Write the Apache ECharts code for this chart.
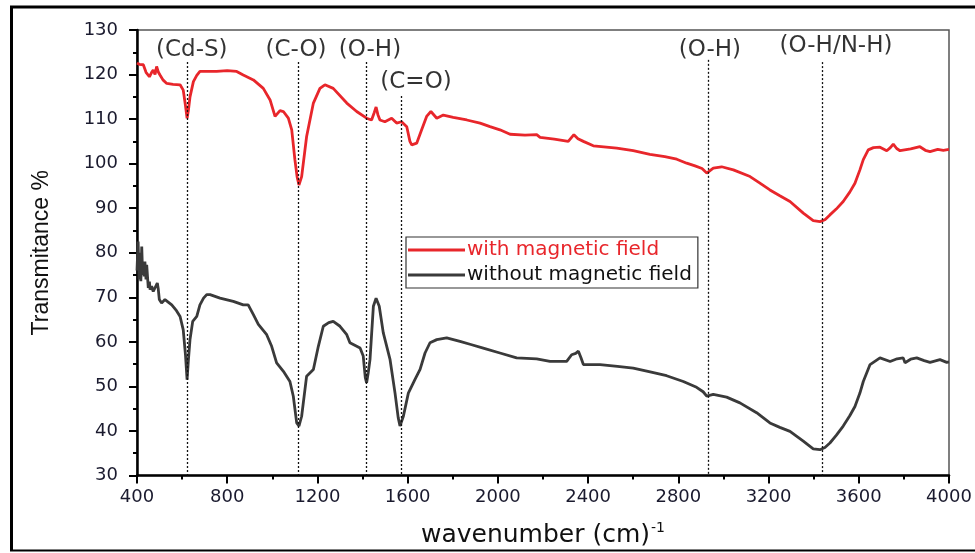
<!DOCTYPE html>
<html>
<head>
<meta charset="utf-8">
<script src="https://cdn.jsdelivr.net/npm/echarts@6/dist/echarts.min.js"></script>
<style>
html,body{margin:0;padding:0;background:#fff;}
#chart{width:975px;height:553px;}
</style>
</head>
<body>
<div id="chart"></div>
<script>
// ---- data ----
var seriesNames = ['with magnetic field', 'without magnetic field'];
var seriesColors = ['#e8262b', '#3a3a3a'];

var withField = [
  [400,122.6],[410,122.3],[428,122.2],[440,120.5],[455,119.5],[465,120.5],[472,121],[480,120],
  [487,121.8],[495,120.5],[502,119.9],[515,118.8],[532,118],[560,117.8],[591,117.7],[605,116.5],
  [615,113],[622,110.2],[628,112],[635,115],[650,118.4],[665,119.8],[679,120.7],[709,120.7],
  [753,120.7],[800,120.9],[842,120.7],[871,119.9],[916,118.8],[960,116.9],[990,114.3],[1012,110.6],
  [1034,111.9],[1049,111.7],[1071,110.2],[1086,107.6],[1100,100.9],[1110,97],[1118,95.2],[1130,97.1],
  [1152,106.1],[1182,113.6],[1211,116.9],[1233,117.7],[1270,116.9],[1330,113.6],[1374,111.7],
  [1418,110.2],[1440,109.8],[1452,111.5],[1460,112.7],[1468,111],[1477,109.8],[1499,109.4],
  [1529,110.2],[1551,109.1],[1573,109.4],[1596,108.3],[1610,105],[1618,104.2],[1640,104.6],
  [1662,107.6],[1684,110.6],[1703,111.7],[1729,110.2],[1758,110.9],[1802,110.4],[1862,109.8],
  [1921,109.1],[1965,108.3],[2009,107.6],[2054,106.6],[2120,106.4],[2172,106.5],[2187,105.9],
  [2250,105.5],[2312,105.0],[2337,106.5],[2355,105.6],[2379,105.0],[2423,104.0],[2527,103.5],
  [2600,102.9],[2674,102.1],[2740,101.6],[2793,101.0],[2837,100.1],[2874,99.5],[2905,98.9],
  [2926,97.9],[2955,99.0],[2992,99.3],[3044,98.6],[3118,97.1],[3160,95.7],[3206,94.1],[3250,92.8],
  [3295,91.5],[3354,88.9],[3398,87.2],[3428,87.0],[3450,87.4],[3472,88.5],[3500,89.8],[3531,91.5],
  [3560,93.6],[3583,95.6],[3605,98.6],[3620,100.9],[3642,103.1],[3665,103.6],[3694,103.7],
  [3724,102.9],[3740,103.6],[3753,104.4],[3768,103.4],[3783,102.9],[3830,103.3],[3871,103.8],
  [3895,103.0],[3916,102.7],[3950,103.2],[3975,103.0],[4000,103.2]
];

var withoutField = [
  [400,76],[405,82.5],[409,74],[413,80],[417,73.6],[421,81.4],[425,75],[428,78],[432,74.7],
  [435,78],[440,74],[443,77.3],[450,72.1],[455,73.5],[458,71.7],[465,72.5],[472,71.3],[480,71.3],
  [490,73.2],[494,72],[499,69.5],[509,68.7],[524,69.5],[554,68.3],[575,67],[591,65.7],[605,62.7],
  [615,57],[622,51.5],[628,56],[635,60.5],[647,64.6],[665,65.7],[679,68.3],[695,69.8],[709,70.6],
  [724,70.6],[768,69.8],[827,69.1],[871,68.3],[893,68.3],[916,66.1],[938,63.9],[975,61.6],
  [997,59.0],[1019,55.3],[1049,53.4],[1078,51.1],[1093,47.8],[1108,41.8],[1118,41.1],[1130,43.3],
  [1152,52.3],[1182,53.8],[1204,59.0],[1226,63.5],[1250,64.3],[1270,64.6],[1300,63.5],[1330,61.6],
  [1344,59.8],[1389,58.6],[1403,56.8],[1412,52],[1418,50.8],[1425,53],[1433,56.0],[1448,68.0],
  [1460,69.8],[1474,68.0],[1492,62.0],[1522,56.0],[1544,48.5],[1558,43],[1566,41.1],[1581,43.3],
  [1603,48.5],[1632,51.5],[1655,53.8],[1677,57.5],[1699,59.8],[1729,60.5],[1773,60.9],[1832,60.1],
  [1880,59.4],[1935,58.6],[2009,57.5],[2083,56.4],[2172,56.2],[2231,55.6],[2305,55.6],[2327,57.1],
  [2345,57.4],[2357,57.9],[2368,56.5],[2379,54.9],[2453,54.9],[2530,54.5],[2600,54.1],[2680,53.2],
  [2748,52.4],[2822,51.1],[2881,49.8],[2910,48.8],[2926,47.8],[2955,48.2],[3014,47.6],[3073,46.3],
  [3147,44.1],[3206,41.8],[3250,40.8],[3295,39.9],[3354,37.7],[3398,36.0],[3428,35.8],[3450,36.3],
  [3472,37.3],[3500,39.0],[3531,41.1],[3560,43.4],[3583,45.5],[3605,48.5],[3620,51.1],[3650,54.9],
  [3694,56.4],[3739,55.6],[3770,56.2],[3797,56.4],[3805,55.3],[3830,56.1],[3857,56.4],[3890,55.8],
  [3916,55.4],[3960,56.0],[3990,55.4],[4000,55.5]
];

// peak assignment annotations
var annotNames   = ['(Cd-S)', '(C-O)', '(O-H)', '(C=O)', '(O-H)', '(O-H/N-H)'];
var annotLineX   = [622, 1114, 1415, 1570, 2931, 3436];
var annotLineTop = [122.8, 122.8, 122.8, 115.2, 123.3, 122.8];
var annotLabelX  = [643, 1105, 1433, 1637, 2940, 3499];
var annotLabelY  = [125.6, 125.6, 125.6, 118.4, 125.4, 126.3];

var xTicks = {min: 400, max: 4000, interval: 400};
var yTicks = {min: 30, max: 130, interval: 10};

// ---- chart ----
var chart = echarts.init(document.getElementById('chart'), null, {renderer: 'canvas'});

var markLines = annotLineX.map(function (x, i) {
  return [{coord: [x, annotLineTop[i]]}, {coord: [x, yTicks.min]}];
});
var annotData = annotNames.map(function (n, i) {
  return {name: n, value: [annotLabelX[i], annotLabelY[i]]};
});

var tickFont = 'DejaVu Sans';
var option = {
  backgroundColor: '#fff',
  animation: false,
  grid: {left: 137, top: 30, right: 26, bottom: 77, show: true, borderColor: '#555', borderWidth: 1.5},
  graphic: [
    {type: 'line', shape: {x1: 11.5, y1: 6, x2: 11.5, y2: 551}, style: {stroke: '#000', lineWidth: 3}},
    {type: 'line', shape: {x1: 10, y1: 7, x2: 975, y2: 7}, style: {stroke: '#000', lineWidth: 3}},
    {type: 'line', shape: {x1: 10, y1: 550.5, x2: 975, y2: 550.5}, style: {stroke: '#000', lineWidth: 2}}
  ],
  legend: {
    left: 406, top: 237,
    orient: 'vertical',
    icon: 'rect',
    itemWidth: 57, itemHeight: 3, itemGap: 5,
    padding: [3, 6, 3, 2],
    borderColor: '#333', borderWidth: 1.2,
    backgroundColor: '#fff',
    textStyle: {fontFamily: tickFont, fontSize: 20, padding: [0, 0, 0, -3]},
    data: [
      {name: seriesNames[0], textStyle: {color: seriesColors[0]}},
      {name: seriesNames[1], textStyle: {color: '#111'}}
    ]
  },
  xAxis: {
    type: 'value', min: xTicks.min, max: xTicks.max, interval: xTicks.interval,
    name: 'wavenumber (cm){sup|-1}',
    nameLocation: 'middle', nameGap: 46,
    nameTextStyle: {fontFamily: tickFont, fontSize: 25, color: '#111',
      rich: {sup: {fontFamily: tickFont, fontSize: 14, color: '#111', verticalAlign: 'top', padding: [0, 0, 14, 1]}}},
    axisLine: {show: true, onZero: false, lineStyle: {color: '#000', width: 2.5}},
    axisTick: {show: true, inside: false, length: 8, lineStyle: {color: '#000', width: 2}},
    minorTick: {show: true, splitNumber: 2, length: 4, lineStyle: {color: '#000', width: 2}},
    axisLabel: {fontFamily: tickFont, fontSize: 18, color: '#1a1a2e', margin: 13,
      formatter: function (v) { return String(v); }},
    splitLine: {show: false}
  },
  yAxis: {
    type: 'value', min: yTicks.min, max: yTicks.max, interval: yTicks.interval,
    name: 'Transmitance %',
    nameLocation: 'middle', nameGap: 84, nameRotate: 90,
    nameTextStyle: {fontFamily: 'Liberation Sans', fontSize: 23, color: '#111'},
    axisLine: {show: true, onZero: false, lineStyle: {color: '#000', width: 2.5}},
    axisTick: {show: true, inside: false, length: 8, lineStyle: {color: '#000', width: 2}},
    minorTick: {show: true, splitNumber: 2, length: 4, lineStyle: {color: '#000', width: 2}},
    axisLabel: {fontFamily: tickFont, fontSize: 18, color: '#1a1a2e', margin: 19,
      formatter: function (v) { return String(v); }},
    splitLine: {show: false}
  },
  series: [
    {
      name: seriesNames[0], type: 'line', data: withField, symbol: 'none',
      lineStyle: {color: seriesColors[0], width: 2.8}, itemStyle: {color: seriesColors[0]}, z: 3,
      markLine: {
        silent: true, symbol: 'none', label: {show: false},
        lineStyle: {color: '#111', width: 1.3, type: [2, 2]},
        data: markLines
      }
    },
    {
      name: seriesNames[1], type: 'line', data: withoutField, symbol: 'none',
      lineStyle: {color: seriesColors[1], width: 2.8}, itemStyle: {color: seriesColors[1]}, z: 3
    },
    {
      name: 'annotations', type: 'scatter', data: annotData, symbolSize: 0, silent: true,
      label: {show: true, position: 'inside', formatter: '{b}', fontFamily: tickFont, fontSize: 23, color: '#000'},
      z: 4
    }
  ]
};
chart.setOption(option);
</script>
</body>
</html>
